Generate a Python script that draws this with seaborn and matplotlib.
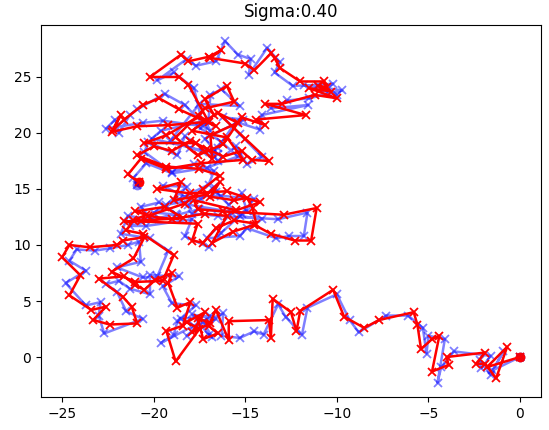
import matplotlib
matplotlib.use("Agg")
import matplotlib.pyplot as plt
import seaborn as sns
import pandas as pd

title = "Sigma:0.40"
x_ticks = [-25, -20, -15, -10, -5, 0]
y_ticks = [0, 5, 10, 15, 20, 25]

# estimated (red) path
red_path = [
    (0.0, 0.0), (-1.8, -0.9), (-0.7, 0.9), (-1.3, -1.9), (-1.9, -0.6), (-2.4, -0.6),
    (-1.9, 0.4), (-4.0, 0.0), (-3.9, -0.7), (-4.8, -1.3), (-4.4, 1.9), (-4.8, 1.6),
    (-5.4, 0.7), (-5.6, 2.9), (-5.8, 4.0), (-7.7, 3.3), (-8.5, 2.6), (-9.6, 3.6),
    (-10.2, 6.0), (-12.0, 4.1), (-12.2, 2.3), (-12.5, 4.0), (-13.5, 5.2), (-13.6, 1.7),
    (-13.7, 3.3), (-15.9, 3.2), (-15.9, 1.5), (-16.6, 4.2), (-17.0, 2.8), (-16.5, 2.1),
    (-17.3, 1.6), (-17.6, 3.5), (-16.9, 3.0), (-17.9, 2.2), (-17.2, 4.0), (-18.2, 3.1),
    (-17.5, 2.5), (-18.8, -0.4), (-19.3, 2.3), (-18.4, 2.8), (-18.0, 4.9), (-18.7, 4.4),
    (-19.2, 6.6), (-19.0, 7.5), (-19.9, 6.9), (-20.5, 6.0), (-21.0, 6.4), (-21.6, 7.2),
    (-23.0, 7.0), (-21.7, 5.4), (-21.2, 4.5), (-20.9, 3.0), (-22.4, 2.9), (-23.3, 3.3),
    (-22.6, 4.5), (-23.4, 4.2), (-24.6, 5.5), (-24.0, 7.3), (-25.0, 8.9), (-24.6, 10.0),
    (-23.5, 9.8), (-22.0, 10.0), (-21.7, 10.4), (-20.5, 10.7), (-21.1, 8.8), (-22.3, 7.6),
    (-21.0, 6.7), (-19.5, 6.8), (-18.9, 9.1), (-20.6, 11.0), (-21.5, 11.3), (-21.1, 12.2),
    (-20.4, 12.7), (-21.0, 13.0), (-19.4, 13.4), (-18.4, 12.4), (-21.6, 12.1), (-20.7, 12.1),
    (-17.6, 11.9), (-17.9, 10.4), (-17.3, 10.2), (-16.6, 11.5), (-15.6, 12.2), (-14.4, 11.9),
    (-14.6, 13.3), (-14.9, 14.2), (-15.6, 14.0), (-16.9, 14.3), (-16.4, 15.6), (-17.1, 14.5),
    (-18.9, 14.0), (-18.5, 15.6),
    (-19.8, 15.0), (-18.0, 14.6), (-16.0, 14.8), (-14.2, 13.8), (-15.5, 13.1), (-17.8, 14.0),
    (-17.6, 13.2), (-16.2, 13.0), (-12.9, 12.7), (-11.1, 13.3),
    (-11.4, 10.4), (-12.3, 10.4), (-13.6, 11.0), (-14.5, 11.8), (-15.65, 11.2), (-16.8, 10.2),
    (-16.0, 12.6), (-17.2, 12.8), (-19.0, 12.3), (-20.3, 12.6), (-18.3, 13.7), (-17.3, 15.0),
    (-16.4, 16.2), (-17.5, 16.8), (-19.3, 17.0), (-20.9, 18.0), (-20.0, 18.8), (-19.0, 18.4),
    (-18.0, 19.3), (-17.1, 18.6), (-16.2, 17.9), (-15.2, 18.4), (-14.65, 17.6), (-13.7, 17.5),
    (-15.0, 19.5), (-16.5, 21.8), (-15.4, 20.9), (-16.9, 19.8),
    (-16.8, 17.7), (-17.7, 19.1), (-20.5, 19.1), (-19.3, 19.8), (-17.5, 21.5), (-16.6, 20.6),
    (-18.6, 22.1), (-19.7, 23.1), (-20.6, 22.5), (-21.6, 21.2), (-22.2, 20.3), (-21.8, 21.6),
    (-22.3, 20.1), (-20.9, 20.6), (-19.2, 20.7), (-17.0, 21.0), (-18.1, 24.3), (-18.6, 25.0),
    (-20.2, 25.0), (-18.5, 27.0), (-18.1, 26.4), (-17.0, 26.8), (-16.3, 27.4), (-16.9, 26.7),
    (-15.0, 26.2), (-14.5, 25.6), (-13.6, 27.1), (-13.4, 26.7), (-13.1, 25.8), (-12.0, 24.6),
    (-10.7, 24.6), (-10.55, 24.1), (-11.0, 24.2), (-10.3, 23.7), (-11.5, 24.0),
    (-10.0, 23.1), (-11.2, 23.4), (-13.0, 22.6), (-13.9, 22.6), (-11.7, 21.6), (-14.4, 21.2),
    (-13.9, 20.7),
    (-15.2, 21.4), (-16.2, 19.0), (-17.6, 18.0), (-18.8, 19.6), (-17.2, 22.2),
    (-15.6, 22.8), (-16.0, 24.2), (-17.2, 23.0), (-16.7, 21.6), (-17.9, 20.2),
    (-16.0, 19.6), (-15.1, 17.6), (-17.4, 17.3), (-19.3, 16.8), (-20.7, 17.7), (-21.4, 16.3),
    (-20.8, 15.6),
]

# true (blue) path
blue_path = [
    (0.0, 0.0), (-1.5, -1.2), (-0.9, 0.5), (-1.6, -1.6), (-2.2, -0.3), (-2.1, -1.0),
    (-1.6, 0.1), (-3.6, 0.5), (-4.3, -0.9), (-4.5, -2.3), (-4.1, 1.6), (-5.0, 1.9),
    (-5.1, 0.3), (-5.3, 2.6), (-6.1, 3.7), (-7.3, 3.7), (-8.8, 2.2), (-9.3, 3.3),
    (-10.0, 5.6), (-11.6, 4.4), (-11.9, 2.0), (-12.8, 3.6), (-13.2, 4.7), (-14.0, 2.0),
    (-14.5, 2.3), (-15.3, 1.7), (-16.3, 1.9), (-16.2, 3.9), (-17.3, 3.1), (-16.8, 1.8),
    (-17.0, 2.0), (-17.9, 3.8), (-16.6, 3.4), (-18.2, 1.9), (-16.9, 3.7), (-18.5, 3.4),
    (-17.8, 2.8), (-19.6, 1.25), (-18.9, 2.0), (-18.7, 3.2), (-17.7, 4.6), (-19.0, 4.8),
    (-19.5, 6.3), (-18.6, 7.2), (-20.2, 7.3), (-20.2, 5.6), (-21.3, 6.1), (-21.9, 6.8),
    (-22.6, 6.5), (-22.0, 5.8), (-21.5, 4.1), (-20.6, 3.4), (-22.7, 2.1), (-23.0, 3.7),
    (-22.9, 4.9), (-23.7, 4.6), (-24.8, 6.6), (-23.7, 7.7), (-24.6, 8.6), (-24.2, 9.6),
    (-23.2, 9.5), (-22.4, 9.7), (-21.4, 10.0), (-20.8, 10.3), (-20.7, 8.5), (-22.0, 8.0),
    (-20.6, 7.1), (-19.8, 7.2), (-19.2, 9.5), (-20.2, 10.6), (-21.8, 11.0), (-21.4, 12.6),
    (-20.1, 12.3), (-20.7, 13.4), (-19.7, 13.8), (-18.8, 12.8), (-21.3, 11.7), (-20.4, 11.7),
    (-17.9, 12.3), (-18.3, 10.8), (-17.0, 9.8), (-16.3, 11.1), (-15.3, 12.6), (-14.1, 12.3),
    (-14.9, 13.0), (-15.2, 14.6), (-15.9, 13.6), (-16.6, 14.7), (-16.7, 15.2), (-17.4, 14.1),
    (-19.3, 13.6), (-18.2, 15.2),
    (-19.5, 15.3), (-18.3, 14.3), (-16.3, 14.4), (-14.5, 14.1), (-15.2, 12.8), (-18.1, 13.6),
    (-17.9, 12.8), (-16.5, 12.6), (-13.2, 12.3), (-11.6, 12.9),
    (-11.8, 10.8), (-12.6, 10.8), (-13.3, 10.6), (-14.9, 11.5), (-15.3, 10.8), (-17.1, 10.6),
    (-15.7, 12.9), (-17.5, 13.2), (-18.7, 12.7), (-20.0, 12.9), (-18.6, 14.1), (-17.0, 15.4),
    (-16.7, 16.6), (-17.8, 17.2), (-19.0, 16.5), (-20.5, 18.3), (-20.3, 19.2), (-18.7, 18.0),
    (-18.3, 19.7), (-16.8, 18.2), (-16.5, 17.5), (-15.5, 18.8), (-14.9, 17.2), (-14.1, 17.9),
    (-15.3, 19.9), (-16.2, 21.4), (-15.1, 21.2), (-17.2, 19.5),
    (-16.5, 18.1), (-18.0, 18.7), (-20.1, 19.5), (-19.6, 20.2), (-17.2, 21.1), (-16.9, 20.2),
    (-18.3, 22.5), (-19.4, 23.5), (-20.9, 22.1), (-21.3, 21.6), (-21.9, 20.0), (-22.1, 21.2),
    (-22.6, 20.4), (-20.6, 20.9), (-19.5, 21.1), (-17.3, 20.6), (-17.8, 24.0), (-18.9, 25.4),
    (-19.8, 24.7), (-18.2, 26.6), (-17.7, 26.0), (-16.6, 26.4), (-16.1, 28.2), (-15.4, 27.0),
    (-14.7, 26.6), (-14.8, 25.2), (-13.8, 27.6), (-13.1, 26.3), (-13.4, 25.4), (-12.4, 24.2),
    (-11.0, 24.3), (-10.2, 24.4), (-10.7, 23.9), (-10.0, 23.4), (-11.8, 24.3),
    (-9.7, 23.8), (-11.5, 23.1), (-12.7, 22.9), (-13.6, 22.2), (-11.55, 22.5), (-14.1, 21.6),
    (-14.2, 20.3),
    (-15.5, 21.0), (-16.5, 18.7), (-17.3, 18.3), (-19.1, 19.3), (-17.5, 22.6),
    (-15.3, 22.4), (-16.3, 23.9), (-16.9, 23.4), (-17.0, 21.2), (-17.6, 20.6),
    (-16.3, 19.2), (-15.4, 17.9), (-17.1, 16.9), (-19.0, 16.4), (-20.4, 17.3), (-21.1, 16.0),
    (-20.9, 15.4),
]

red_df = pd.DataFrame(red_path, columns=["x", "y"])
blue_df = pd.DataFrame(blue_path, columns=["x", "y"])

fig = plt.figure(figsize=(5.49, 4.30), dpi=100)
ax = fig.add_axes([41 / 549, 33 / 430, 500 / 549, 372 / 430])

sns.lineplot(data=blue_df, x="x", y="y", sort=False, estimator=None, ax=ax,
             color="blue", alpha=0.5, marker="x", markersize=6,
             markeredgecolor="blue", markeredgewidth=1.3, linewidth=1.8)
sns.lineplot(data=red_df, x="x", y="y", sort=False, estimator=None, ax=ax,
             color="red", marker="x", markersize=6,
             markeredgecolor="red", markeredgewidth=1.3, linewidth=1.8)

ends_blue = blue_df.iloc[[0, -1]]
ends_red = red_df.iloc[[0, -1]]
sns.scatterplot(data=ends_blue, x="x", y="y", ax=ax, color="blue", alpha=0.5,
                s=50, marker="o", linewidth=0)
sns.scatterplot(data=ends_red, x="x", y="y", ax=ax, color="red",
                s=50, marker="o", linewidth=0)

ax.set_xlim(-26.15, 1.15)
ax.set_ylim(-3.57, 29.64)
ax.set_xticks(x_ticks)
ax.set_yticks(y_ticks)
ax.set_xlabel("")
ax.set_ylabel("")
ax.set_title(title)

fig.savefig("out.png", dpi=100)
